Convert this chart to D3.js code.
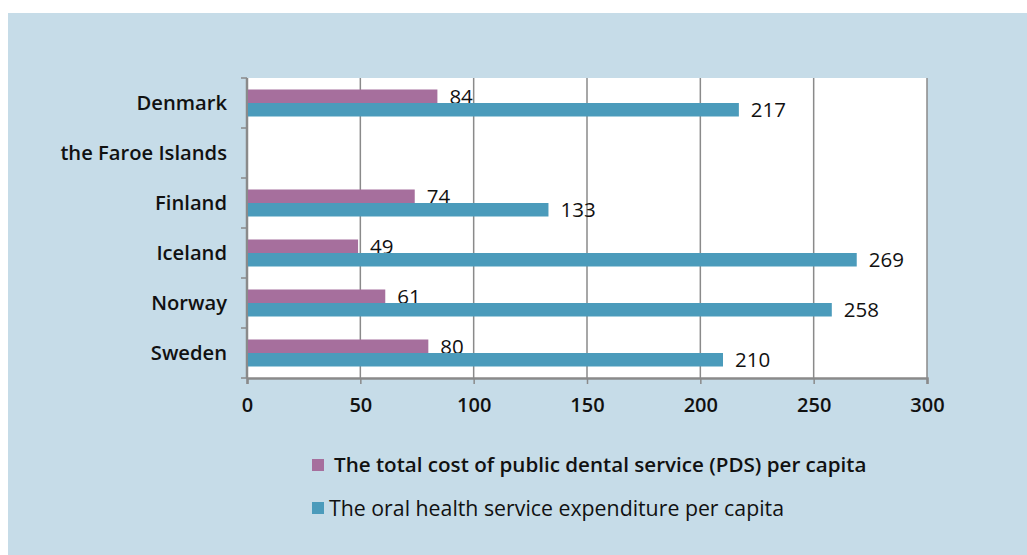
<!DOCTYPE html>
<html>
<head>
<meta charset="utf-8">
<script src="https://cdn.jsdelivr.net/npm/d3@7"></script>
<style>
  body { margin: 0; background: #fff; }
  svg text { font-family: "Open Sans", "Noto Sans", sans-serif; fill: #111; }
</style>
</head>
<body>
<div id="chart"></div>
<script>
// chart data
const countries = ["Denmark", "the Faroe Islands", "Finland", "Iceland", "Norway", "Sweden"];
const pdsCost = [84, null, 74, 49, 61, 80];
const oralHealth = [217, null, 133, 269, 258, 210];
const xTicks = [0, 50, 100, 150, 200, 250, 300];
const seriesNames = [
    "The total cost of public dental service (PDS) per capita",
    "The oral health service expenditure per capita"
];
const seriesColors = ["#a66f9d", "#4b9bbb"];

function makeChart() {
    const width = 1027,
        height = 555,
        plot = { left: 247, right: 927, top: 78, bottom: 378 };

    let svg = d3.select('#chart').append('svg')
        .attr('width', width)
        .attr('height', height);

    // panel background
    svg.append('rect')
        .attr('x', 8).attr('y', 13)
        .attr('width', width - 8).attr('height', height - 13)
        .attr('fill', '#c6dce8');

    svg.append('rect')
        .attr('x', plot.left).attr('y', plot.top)
        .attr('width', plot.right - plot.left).attr('height', plot.bottom - plot.top)
        .attr('fill', '#fff');

    let x = d3.scaleLinear()
        .domain([0, 300])
        .range([plot.left, plot.right]);

    let y = d3.scaleBand()
        .domain(countries)
        .range([plot.top, plot.bottom]);

    const barH = 13.5;

    // vertical gridlines
    svg.append('g')
        .selectAll('line')
        .data(xTicks.slice(1))
        .enter().append('line')
        .attr('x1', d => x(d)).attr('x2', d => x(d))
        .attr('y1', plot.top).attr('y2', plot.bottom)
        .attr('stroke', '#8a8a8a')
        .attr('stroke-width', 1.5);

    // x axis
    let xAxis = svg.append('g')
        .attr('transform', 'translate(0,' + plot.bottom + ')')
        .call(d3.axisBottom(x).tickValues(xTicks).tickSize(6).tickPadding(14).tickFormat(d3.format('d')));
    xAxis.select('.domain').attr('stroke', '#8a8a8a').attr('stroke-width', 2.5);
    xAxis.selectAll('.tick line').attr('stroke', '#8a8a8a').attr('stroke-width', 1.5);
    xAxis.selectAll('text')
        .style('font-size', '20px')
        .style('font-weight', '600')
        .attr('fill', '#111');

    // y axis
    let yTickPos = countries.map(c => y(c)).concat([plot.bottom]);
    let yAxis = svg.append('g');
    yAxis.append('line')
        .attr('x1', plot.left).attr('x2', plot.left)
        .attr('y1', plot.top).attr('y2', plot.bottom)
        .attr('stroke', '#8a8a8a').attr('stroke-width', 2.5);
    yAxis.selectAll('.tk')
        .data(yTickPos)
        .enter().append('line')
        .attr('class', 'tk')
        .attr('x1', plot.left - 6).attr('x2', plot.left)
        .attr('y1', d => d).attr('y2', d => d)
        .attr('stroke', '#8a8a8a').attr('stroke-width', 1.5);
    yAxis.selectAll('text')
        .data(countries)
        .enter().append('text')
        .attr('x', 227)
        .attr('y', d => y(d) + y.bandwidth() / 2)
        .attr('dy', '0.35em')
        .attr('text-anchor', 'end')
        .style('font-size', '20.2px')
        .style('font-weight', '600')
        .text(d => d);

    // bars
    const series = [pdsCost, oralHealth];
    series.forEach((vals, s) => {
        let rows = countries.map((c, i) => ({ c: c, v: vals[i] })).filter(d => d.v != null);
        let g = svg.append('g');
        g.selectAll('rect')
            .data(rows)
            .enter().append('rect')
            .attr('x', x(0) + 1)
            .attr('y', d => y(d.c) + y.bandwidth() / 2 - barH + s * barH)
            .attr('width', d => x(d.v) - x(0) - 1)
            .attr('height', barH)
            .attr('fill', seriesColors[s]);
        g.selectAll('text')
            .data(rows)
            .enter().append('text')
            .attr('x', d => x(d.v) + 12)
            .attr('y', d => y(d.c) + y.bandwidth() / 2 - barH / 2 + s * barH)
            .attr('dy', '0.36em')
            .style('font-size', '20.5px')
            .text(d => d.v);
    });

    // legend
    let legend = svg.append('g')
        .selectAll('g')
        .data(seriesNames)
        .enter().append('g')
        .attr('transform', (d, i) => 'translate(312,' + (465 + i * 43) + ')');
    legend.append('rect')
        .attr('x', 0).attr('y', -6)
        .attr('width', 12).attr('height', 12)
        .attr('fill', (d, i) => seriesColors[i]);
    legend.append('text')
        .attr('x', (d, i) => i === 0 ? 22 : 17)
        .attr('dy', '0.36em')
        .style('font-size', (d, i) => i === 0 ? '20.6px' : '21.3px')
        .style('font-weight', (d, i) => i === 0 ? '600' : '400')
        .text(d => d);
}

makeChart();
</script>
</body>
</html>
